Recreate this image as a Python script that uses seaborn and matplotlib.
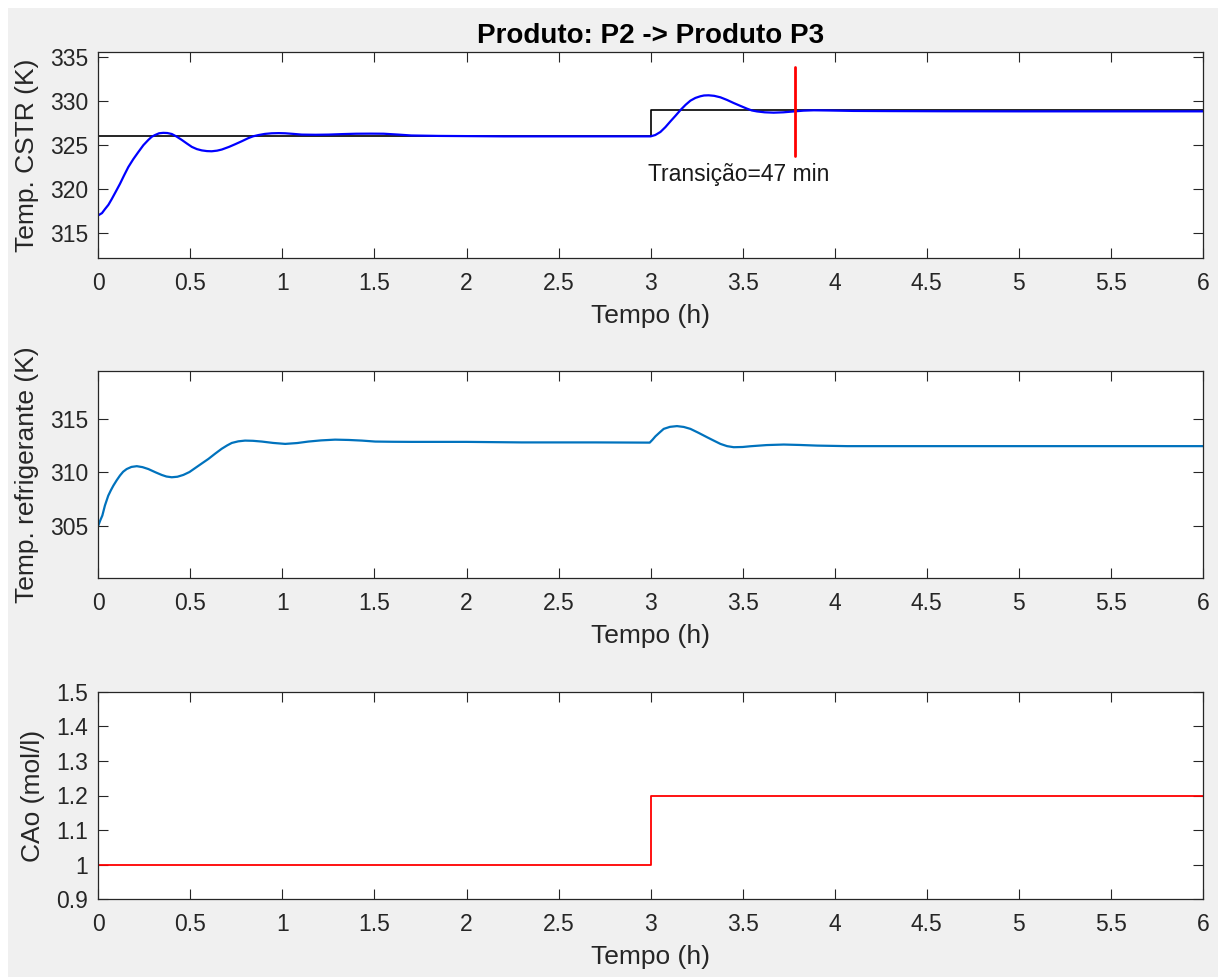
import matplotlib
matplotlib.use("Agg")
import matplotlib.pyplot as plt
from matplotlib.patches import Rectangle
from matplotlib.ticker import FuncFormatter
import seaborn as sns

# ---------------- data ----------------
title_text = "Produto: P2 -> Produto P3"
xlabel_text = "Tempo (h)"
ylabels = ["Temp. CSTR (K)", "Temp. refrigerante (K)", "CAo (mol/l)"]

# CSTR temperature (blue)
t_cstr = [0.0, 0.02, 0.036, 0.055, 0.073, 0.095, 0.118, 0.14, 0.163, 0.19,
          0.217, 0.245, 0.272, 0.29, 0.308, 0.33, 0.353, 0.375, 0.399, 0.425,
          0.453, 0.48, 0.508, 0.535, 0.562, 0.59, 0.616, 0.645, 0.671, 0.71,
          0.743, 0.78, 0.815, 0.84, 0.87, 0.905, 0.942, 0.98, 1.015, 1.06,
          1.105, 1.18, 1.25, 1.33, 1.40, 1.48, 1.55, 1.63, 1.70, 1.85,
          2.2, 2.6, 3.0,
          3.025, 3.053, 3.08, 3.107, 3.135, 3.162, 3.19, 3.216, 3.243, 3.27,
          3.29, 3.315, 3.345, 3.379, 3.415, 3.451, 3.49, 3.524, 3.55, 3.578,
          3.62, 3.668, 3.72, 3.777, 3.83, 3.886, 3.96, 4.1, 4.3, 4.6,
          5.0, 6.0]
T_cstr = [317.0, 317.25, 317.7, 318.2, 318.85, 319.7, 320.6, 321.55, 322.5, 323.4,
          324.2, 325.0, 325.6, 325.95, 326.15, 326.35, 326.4, 326.38, 326.27, 325.98,
          325.6, 325.2, 324.8, 324.55, 324.4, 324.32, 324.3, 324.37, 324.5, 324.8,
          325.1, 325.45, 325.8, 326.0, 326.15, 326.28, 326.35, 326.37, 326.35, 326.28,
          326.2, 326.18, 326.2, 326.26, 326.3, 326.31, 326.3, 326.2, 326.1, 326.05,
          326.0, 326.0, 326.0,
          326.15, 326.5, 327.05, 327.7, 328.35, 329.0, 329.6, 330.07, 330.38, 330.57,
          330.66, 330.68, 330.62, 330.45, 330.15, 329.8, 329.45, 329.15, 328.95, 328.84,
          328.74, 328.7, 328.74, 328.84, 328.93, 328.97, 328.95, 328.9, 328.88, 328.86,
          328.85, 328.85]

# setpoint (black step)
t_sp = [0.0, 3.0, 6.0]
sp = [326.0, 329.0, 329.0]

# transition marker
t_transition = 3.0 + 47 / 60.0
transition_y = [323.8, 333.9]
transition_label = "Transição=47 min"

# coolant temperature
t_cool = [0.0, 0.011, 0.022, 0.036, 0.054, 0.068, 0.082, 0.1, 0.118, 0.135,
          0.154, 0.18, 0.209, 0.24, 0.272, 0.31, 0.344, 0.37, 0.399, 0.43,
          0.462, 0.495, 0.525, 0.56, 0.598, 0.635, 0.670, 0.70, 0.725, 0.76,
          0.797, 0.84, 0.888, 0.95, 1.015, 1.08, 1.141, 1.21, 1.286, 1.36,
          1.432, 1.504, 1.6, 1.7, 2.0, 2.3, 2.7, 2.995,
          3.01, 3.026, 3.05, 3.071, 3.105, 3.143, 3.18, 3.216, 3.26, 3.307,
          3.345, 3.379, 3.415, 3.451, 3.5, 3.542, 3.63, 3.723, 3.81, 3.904,
          4.067, 5.0, 6.0]
T_cool = [305.0, 305.5, 305.94, 306.88, 307.8, 308.3, 308.75, 309.25, 309.7, 310.05,
          310.3, 310.5, 310.57, 310.48, 310.3, 310.0, 309.75, 309.6, 309.53, 309.58,
          309.75, 310.02, 310.38, 310.8, 311.25, 311.75, 312.2, 312.52, 312.75, 312.9,
          312.97, 312.95, 312.88, 312.75, 312.66, 312.74, 312.88, 312.99, 313.06, 313.03,
          312.97, 312.88, 312.86, 312.85, 312.85, 312.8, 312.8, 312.78,
          313.05, 313.37, 313.75, 314.07, 314.26, 314.33, 314.25, 314.07, 313.7, 313.28,
          312.95, 312.66, 312.45, 312.35, 312.37, 312.44, 312.55, 312.6, 312.56, 312.5,
          312.45, 312.45, 312.45]

# feed concentration
t_cao = [0.0, 3.0, 6.0]
cao = [1.0, 1.2, 1.2]

xticks = [0, 0.5, 1, 1.5, 2, 2.5, 3, 3.5, 4, 4.5, 5, 5.5, 6]
yticks_top = [315, 320, 325, 330, 335]
yticks_mid = [305, 310, 315]
yticks_bot = [0.9, 1.0, 1.1, 1.2, 1.3, 1.4, 1.5]

# ---------------- styling ----------------
sns.set_theme(style="white")
plt.rcParams['font.family'] = ['Liberation Sans', 'DejaVu Sans']

W, H = 1218, 977
fig = plt.figure(figsize=(W / 100, H / 100), dpi=100)
fig.patch.set_facecolor("white")
fig.patches.append(Rectangle((8 / W, 0), 1, 1 - 8 / H, transform=fig.transFigure,
                             facecolor="#f0f0f0", edgecolor="none", zorder=-10))

left = 98.3 / W
width = (1203 - 98.3) / W

def frame(top_px, bot_px):
    return [left, 1 - bot_px / H, width, (bot_px - top_px) / H]

ax1 = fig.add_axes(frame(51.7, 258.3))
ax2 = fig.add_axes(frame(371.0, 578.3))
ax3 = fig.add_axes(frame(691.7, 899.3))

edge = "#262626"
tick_fs = 16.5
label_fs = 19

def style(ax, yticks, ylim, ylabel):
    ax.set_facecolor("white")
    ax.set_xlim(0, 6)
    ax.set_ylim(*ylim)
    ax.set_xticks(xticks)
    ax.set_yticks(yticks)
    ax.xaxis.set_major_formatter(FuncFormatter(lambda v, p: f"{v:g}"))
    ax.yaxis.set_major_formatter(FuncFormatter(lambda v, p: f"{v:g}"))
    ax.tick_params(direction="in", length=7.2, width=0.8, color=edge,
                   labelcolor=edge, labelsize=tick_fs, top=True, right=True,
                   bottom=True, left=True)
    ax.tick_params(axis="x", pad=10)
    ax.tick_params(axis="y", pad=7.5)
    for s in ax.spines.values():
        s.set_visible(True)
        s.set_color(edge)
        s.set_linewidth(0.9)
    ax.set_xlabel(xlabel_text, fontsize=label_fs, color=edge, labelpad=6)
    ax.set_ylabel(ylabel, fontsize=label_fs, color=edge, labelpad=8)
    ax.grid(False)

# top panel
sns.lineplot(x=t_sp, y=sp, ax=ax1, color="black", linewidth=1.2,
             drawstyle="steps-post", estimator=None, sort=False)
sns.lineplot(x=t_cstr, y=T_cstr, ax=ax1, color="#0000ff", linewidth=1.6,
             estimator=None, sort=False)
sns.lineplot(x=[t_transition, t_transition], y=transition_y, ax=ax1,
             color="#ff0000", linewidth=2.0, estimator=None, sort=False)
ax1.text(2.985, 320.9, transition_label, fontsize=tick_fs, color="#1a1a1a",
         ha="left", va="baseline")
style(ax1, yticks_top, (312.1, 335.65), ylabels[0])
ax1.set_title(title_text, fontsize=20, fontweight="bold", color="black", pad=6)

# middle panel
sns.lineplot(x=t_cool, y=T_cool, ax=ax2, color="#0072bd", linewidth=1.6,
             estimator=None, sort=False)
style(ax2, yticks_mid, (300.05, 319.5), ylabels[1])

# bottom panel
sns.lineplot(x=t_cao, y=cao, ax=ax3, color="#ff0000", linewidth=1.3,
             drawstyle="steps-post", estimator=None, sort=False)
style(ax3, yticks_bot, (0.9, 1.5), ylabels[2])

fig.savefig("out.png", dpi=100)
